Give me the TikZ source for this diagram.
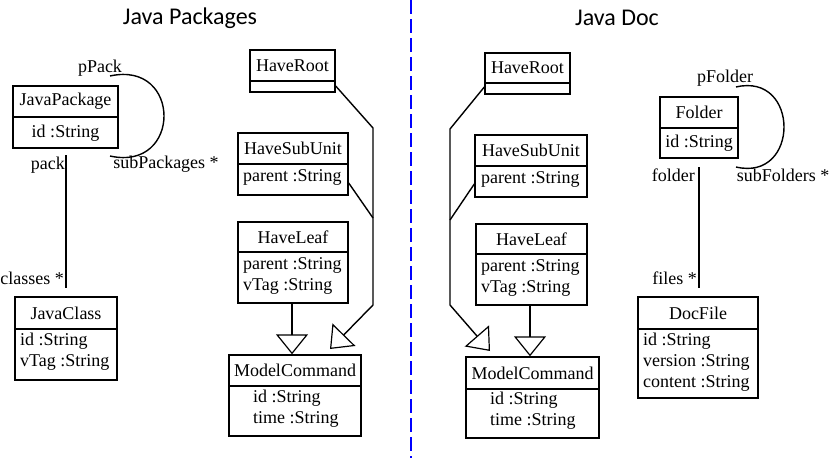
\documentclass[tikz,border=0pt]{standalone}
\usepackage{fontspec}
\setmainfont{Liberation Serif}
\newfontfamily\titlefont{Carlito}
\usetikzlibrary{fit,arrows.meta}
\tikzset{
  ln/.style={line width=1.4pt},
  umlbox/.style={draw,line width=1.4pt,inner sep=0pt},
  txt/.style={font=\fontsize{18}{21}\selectfont,inner sep=0pt},
  attr/.style={txt,align=left,anchor=north west},
  ttl/.style={font=\titlefont\fontsize{24}{28}\selectfont,inner sep=0pt},
  gen/.style={ln,-{Triangle[open,length=20pt,width=32pt,line width=1.2pt]}}
}
\newcommand\umlb[7]{%
  \node[umlbox,fit={(#2,#3)(#4,#6)}] (#1) {};
  \draw[ln] (#2,#5) -- (#4,#5);
  \node[txt] (#1t) at ({(#2+#4)/2},{(#3+#5)/2}) {#7};}
\begin{document}
\begin{tikzpicture}[x=1pt,y=-1pt]
\useasboundingbox (0,0) rectangle (831,458);
\node[ttl] (t1) at (190,18) {Java Packages};
\node[ttl] (t2) at (617,18) {Java Doc};
\coordinate (dtop) at (411,0); \coordinate (dbot) at (411,458);
\draw[blue,line width=2.8pt,dash pattern=on 14pt off 5pt] (dtop) -- (dbot);
% left
\umlb{jp}{13}{86}{118}{117}{148}{JavaPackage}
\node[txt] (jpa) at (65.5,133) {id :String};
\umlb{jc}{15}{297}{117}{329}{380}{JavaClass}
\node[attr] (jca) at (20,333) {id :String\\vTag :String};
\coordinate (l1) at (110,76); \coordinate (l2) at (110,156);
\draw[ln] (l1) .. controls (182,60) and (182,172) .. (l2);
\node[txt] (pp) at (100,68) {pPack};
\node[txt] (sp) at (166,164) {subPackages *};
\coordinate (a1) at (66,155); \coordinate (a2) at (66,288);
\draw[ln] (a1) -- (a2);
\node[txt,anchor=east] (pk) at (65,165) {pack};
\node[txt,anchor=east] (cl) at (64,278) {classes *};
\umlb{hr}{250}{50}{335}{81}{92}{HaveRoot}
\umlb{hs}{238}{133}{348}{164}{195}{HaveSubUnit}
\node[attr] (hsa) at (243,169) {parent :String};
\umlb{hl}{238}{222}{348}{252}{303}{HaveLeaf}
\node[attr] (hla) at (243,257) {parent :String\\vTag :String};
\umlb{mc}{229}{355}{361}{386}{436}{ModelCommand}
\node[attr] (mca) at (253,390) {id :String\\time :String};
\coordinate (b1) at (373,128); \coordinate (b2) at (373,305); \coordinate (b3) at (373,218);
\draw[ln] (hr.east |- 0,86) -- (b1) -- (b2);
\draw[ln] (hs.east |- 0,183) -- (b3);
\draw[gen] (b2) -- (330,349);
\draw[gen] (hl.south -| 292,0) -- (mc.north -| 292,0);
% right
\umlb{hr2}{485}{53}{570}{83}{94}{HaveRoot}
\umlb{hs2}{475}{135}{587}{166}{197}{HaveSubUnit}
\node[attr] (hs2a) at (481,171) {parent :String};
\umlb{hl2}{476}{224}{587}{254}{305}{HaveLeaf}
\node[attr] (hl2a) at (481,259) {parent :String\\vTag :String};
\umlb{mc2}{466}{357}{599}{389}{438}{ModelCommand}
\node[attr] (mc2a) at (490,392) {id :String\\time :String};
\coordinate (c1) at (450,129); \coordinate (c2) at (450,305); \coordinate (c3) at (450,220);
\draw[ln] (hr2.west |- 0,87) -- (c1) -- (c2);
\draw[ln] (hs2.west |- 0,184) -- (c3);
\draw[gen] (c2) -- (490,351);
\draw[gen] (hl2.south -| 530,0) -- (mc2.north -| 530,0);
\umlb{fo}{660}{97}{738}{128}{158}{Folder}
\node[txt] (foa) at (699,143) {id :String};
\umlb{df}{638}{297}{758}{329}{398}{DocFile}
\node[attr] (dfa) at (643,333) {id :String\\version :String\\content :String};
\coordinate (f1) at (736,87); \coordinate (f2) at (736,167);
\draw[ln] (f1) .. controls (800,72) and (800,182) .. (f2);
\node[txt] (pf) at (725,78) {pFolder};
\node[txt] (sf) at (783,175) {subFolders *};
\coordinate (g1) at (699,167); \coordinate (g2) at (699,288);
\draw[ln] (g1) -- (g2);
\node[txt,anchor=east] (fl) at (695,175) {folder};
\node[txt,anchor=east] (fi) at (697,278) {files *};
\end{tikzpicture}
\end{document}
